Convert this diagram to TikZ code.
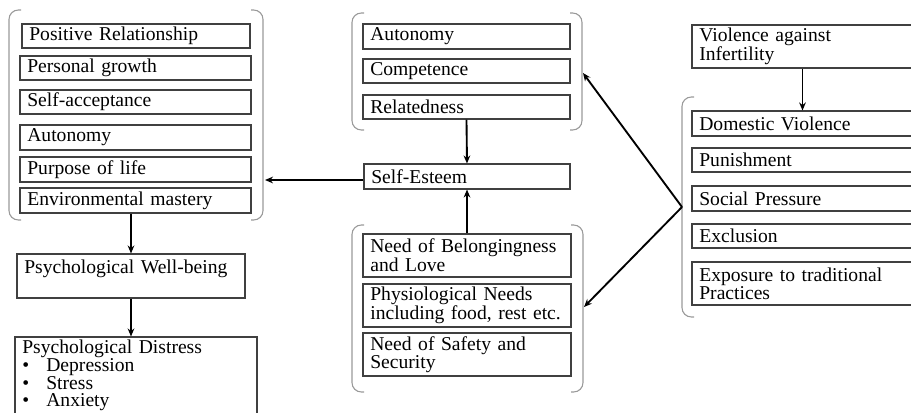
\documentclass[tikz,border=0pt]{standalone}
\usepackage{fontspec}
\setmainfont{Liberation Serif}
\usetikzlibrary{arrows.meta,calc}
\newcommand\bx[6]{%
 \pgfmathsetlengthmacro\myw{(#4-#2)*0.75pt}%
 \pgfmathsetlengthmacro\myh{(#5-#3)*0.75pt}%
 \pgfmathsetlengthmacro\mytw{(#4-#2)*0.75pt-11pt}%
 \node[box, minimum width=\myw, minimum height=\myh, text width=\mytw] (#1) at ({(#2+#4)/2},{(#3+#5)/2}) {#6};}
\newcommand\brL[3]{\draw[brk] ({#1+12},#2) -- (#1,#2) -- (#1,#3) -- ({#1+12},#3);}
\newcommand\brR[3]{\draw[brk] ({#1-12},#2) -- (#1,#2) -- (#1,#3) -- ({#1-12},#3);}
\newcommand\bul[1]{\makebox[18pt][l]{•}#1}
\begin{document}
\begin{tikzpicture}[x=0.75pt,y=-0.75pt,
  box/.style={draw=black!75, line width=0.8pt, rectangle, inner xsep=5.5pt, inner ysep=0pt, align=left,
    font=\fontsize{14.7pt}{13.3pt}\selectfont},
  brk/.style={draw=black!40, line width=0.8pt, rounded corners=7pt},
  arr/.style={draw=black, line width=1.4pt, -{Stealth[length=6pt,width=5pt]}}]
\useasboundingbox (0,0) rectangle (911,412);
\clip (0,0) rectangle (911,412);
% left group
\brL{9}{10}{220}\brR{263}{10}{220}
\bx{pr}{22}{24}{250}{48}{Positive Relationship}
\bx{pg}{20}{56}{251}{80}{Personal growth}
\bx{sa}{20}{90}{251}{114}{Self-acceptance}
\bx{au}{20}{125}{251}{150}{Autonomy}
\bx{pl}{20}{157}{251}{182}{Purpose of life}
\bx{em}{20}{188}{251}{213}{Environmental mastery}
\coordinate (lg) at (265,180);
\bx{wb}{17}{254}{245}{298}{Psychological Well-being\\ \mbox{}}
\bx{pd}{15}{337}{257}{414}{Psychological Distress\\
 \bul{Depression}\\
 \bul{Stress}\\
 \bul{Anxiety}}
% middle top group
\brL{352}{13}{130}\brR{582}{13}{130}
\bx{au2}{363}{24}{570}{49}{Autonomy}
\bx{co}{363}{59}{570}{83}{Competence}
\bx{re}{363}{95}{570}{119}{Relatedness}
\coordinate (mt) at (583,73);
\bx{se}{364}{164}{570}{189}{Self-Esteem}
% middle bottom group
\brL{352}{225}{392}\brR{583}{225}{392}
\bx{nb}{363}{234}{571}{277}{Need of Belongingness\\and Love}
\bx{ph}{363}{284}{571}{327}{Physiological Needs\\including food, rest etc.}
\bx{ns}{363}{333}{571}{376}{Need of Safety and\\Security}
\coordinate (mb) at (584,307);
% right group
\bx{vi}{692}{25}{913}{68}{Violence against\\Infertility}
\brL{682}{97}{317}
\bx{dv}{692}{111}{913}{136}{Domestic Violence}
\bx{pu}{692}{148}{913}{172}{Punishment}
\bx{sp}{692}{186}{913}{211}{Social Pressure}
\bx{ex}{692}{224}{913}{248}{Exclusion}
\bx{et}{692}{262}{913}{305}{Exposure to traditional\\Practices}
\coordinate (rg) at (682,207);
% connectors
\draw[arr] (se.west |- lg) -- (lg);
\draw[arr] (wb.north |- em.south) -- (wb.north);
\draw[arr] (wb.south) -- (wb.south |- pd.north);
\draw[arr] (re.south) -- (se.north);
\draw[arr] (nb.north) -- (se.south);
\draw[arr] (vi.south) -- (dv.north);
\draw[arr] (rg) -- (mt);
\draw[arr] (rg) -- (mb);
\end{tikzpicture}
\end{document}
